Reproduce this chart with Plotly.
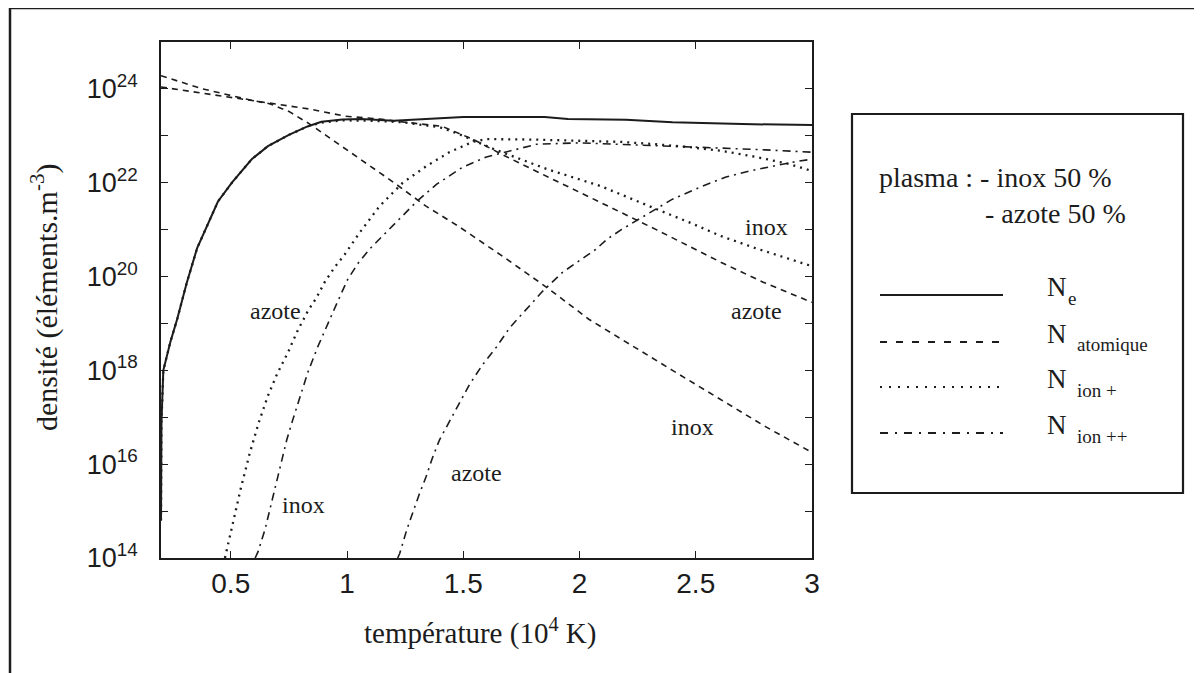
import plotly.graph_objects as go

# ---------------- data (temperature in 10^4 K, log10 of density in m^-3) ----------------
T_ne = [0.2, 0.202, 0.21, 0.24, 0.27, 0.31, 0.355, 0.39, 0.445, 0.505, 0.59, 0.66, 0.75, 0.83,
        0.89, 0.98, 1.06, 1.2, 1.35, 1.5, 1.85, 1.95, 2.2, 2.4, 2.7, 3.0]
log_ne = [14.8, 16.9, 18.0, 18.6, 19.1, 19.85, 20.6, 21.0, 21.6, 22.0, 22.5, 22.78, 23.02, 23.2,
          23.3, 23.35, 23.36, 23.32, 23.36, 23.4, 23.4, 23.36, 23.34, 23.29, 23.25, 23.23]

T_at_az = [0.2, 0.34, 0.48, 0.69, 0.84, 0.99, 1.14, 1.25, 1.41, 1.54, 1.68, 1.82, 1.97, 2.09,
           2.33, 2.47, 2.61, 2.79, 3.0]
log_at_az = [24.04, 23.94, 23.83, 23.68, 23.57, 23.42, 23.36, 23.29, 23.2, 22.93, 22.57, 22.23,
             21.86, 21.58, 21.0, 20.65, 20.3, 19.88, 19.45]

T_at_inox = [0.2, 0.38, 0.56, 0.67, 0.75, 0.84, 0.95, 1.12, 1.2, 1.34, 1.48, 1.67, 1.87, 2.04,
             2.2, 2.4, 2.6, 2.8, 3.0]
log_at_inox = [24.28, 24.0, 23.79, 23.68, 23.52, 23.25, 22.87, 22.29, 22.01, 21.5, 21.07, 20.43,
               19.73, 19.09, 18.6, 18.0, 17.4, 16.8, 16.25]

T_ip_inox = [0.2, 0.202, 0.21, 0.24, 0.27, 0.31, 0.355, 0.39, 0.445, 0.505, 0.59, 0.66, 0.75,
             0.83, 0.89, 0.98, 1.11, 1.24, 1.4, 1.48, 1.63, 1.86, 2.09, 2.33, 2.47, 2.61, 2.76, 3.0]
log_ip_inox = [14.8, 16.9, 18.0, 18.6, 19.1, 19.85, 20.6, 21.0, 21.6, 22.0, 22.5, 22.78, 23.02,
               23.2, 23.28, 23.33, 23.32, 23.29, 23.18, 23.04, 22.72, 22.29, 21.93, 21.44, 21.16,
               20.86, 20.6, 20.22]

T_ip_az = [0.475, 0.505, 0.544, 0.582, 0.62, 0.66, 0.70, 0.746, 0.784, 0.831, 0.87, 0.904, 0.947,
           0.99, 1.055, 1.14, 1.24, 1.34, 1.44, 1.54, 1.6, 1.8, 2.04, 2.18, 2.33, 2.47, 2.61,
           2.76, 2.9, 3.0]
log_ip_az = [14.0, 14.66, 15.5, 16.24, 16.88, 17.46, 17.93, 18.38, 18.81, 19.26, 19.56, 19.88,
             20.2, 20.47, 20.94, 21.5, 22.0, 22.35, 22.65, 22.87, 22.93, 22.92, 22.89, 22.87,
             22.82, 22.76, 22.68, 22.55, 22.4, 22.25]

T_ipp_inox = [0.605, 0.617, 0.647, 0.681, 0.711, 0.741, 0.767, 0.806, 0.831, 0.874, 0.917, 0.96,
              1.003, 1.05, 1.1, 1.17, 1.23, 1.3, 1.386, 1.497, 1.6, 1.73, 1.815, 2.0, 2.3, 2.6,
              2.8, 3.0]
log_ipp_inox = [14.0, 14.13, 14.6, 15.3, 15.88, 16.52, 16.95, 17.53, 17.95, 18.5, 19.0, 19.47,
                19.94, 20.3, 20.6, 20.95, 21.25, 21.6, 21.97, 22.33, 22.55, 22.72, 22.82, 22.85,
                22.8, 22.74, 22.7, 22.65]

T_ipp_az = [1.218, 1.227, 1.257, 1.282, 1.31, 1.34, 1.368, 1.398, 1.44, 1.484, 1.527, 1.583,
            1.643, 1.70, 1.772, 1.84, 1.927, 2.01, 2.07, 2.12, 2.18, 2.4, 2.53, 2.63, 2.73, 2.83,
            2.94, 3.0]
log_ipp_az = [14.0, 14.1, 14.6, 14.96, 15.35, 15.73, 16.14, 16.52, 16.91, 17.31, 17.7, 18.12,
              18.5, 18.91, 19.3, 19.68, 20.09, 20.37, 20.58, 20.8, 21.0, 21.65, 21.93, 22.12,
              22.25, 22.35, 22.46, 22.5]

x_ticks = [0.5, 1, 1.5, 2, 2.5, 3]
x_tick_labels = ["0.5", "1", "1.5", "2", "2.5", "3"]
y_major_exp = [14, 16, 18, 20, 22, 24]
y_minor_exp = [15, 17, 19, 21, 23]

# curve labels: (text, x, log10 y)
curve_labels = [("azote", 0.694, 19.26), ("inox", 0.814, 15.13), ("azote", 1.557, 15.82),
                ("inox", 2.803, 21.05), ("azote", 2.76, 19.26), ("inox", 2.485, 16.8)]

legend_names = ["e", "atomique", "ion +", "ion ++"]

# ---------------- styles ----------------
INK = "#1c1c1c"
S_SOLID = dict(color=INK, width=2)
S_DASH = dict(color=INK, width=1.6, dash="6px,5px")
S_DOT = dict(color=INK, width=2.3, dash="2px,5px")
S_DASHDOT = dict(color=INK, width=1.6, dash="8px,5px,2px,5px")


def dens(v):
    return [10.0 ** e for e in v]


fig = go.Figure()
series = [
    (T_at_az, log_at_az, S_DASH),
    (T_at_inox, log_at_inox, S_DASH),
    (T_ipp_inox, log_ipp_inox, S_DASHDOT),
    (T_ipp_az, log_ipp_az, S_DASHDOT),
    (T_ip_az, log_ip_az, S_DOT),
    (T_ne, log_ne, S_SOLID),
    (T_ip_inox, log_ip_inox, S_DOT),
]
for tx, ly, st in series:
    fig.add_trace(go.Scatter(x=tx, y=dens(ly), mode="lines", line=st, showlegend=False,
                             hoverinfo="skip"))

SERIF = "Liberation Serif, Times New Roman, serif"
SANS = "Liberation Sans, Arial, sans-serif"

annotations = []
for txt, ax_, ay_ in curve_labels:
    annotations.append(dict(x=ax_, y=ay_, xref="x", yref="y", text=txt, showarrow=False,
                            font=dict(family=SERIF, size=24, color=INK)))

# Page offset: the html body adds 8 px; plot area on screen spans px 161..812, 42..558
OFF = 8
W, H = 651.0, 516.0


def px(x):
    return (x - 161) / W


def py(y):
    return (558 - y) / H


# axis titles
annotations.append(dict(x=px(480), y=py(631), xref="paper", yref="paper",
                        text="température (10<sup>4</sup> K)", showarrow=False,
                        xanchor="center", yanchor="middle",
                        font=dict(family=SERIF, size=29, color=INK)))
annotations.append(dict(x=px(44), y=py(298), xref="paper", yref="paper", textangle=-90,
                        text="densité (éléments.m<sup>-3</sup>)", showarrow=False,
                        xanchor="center", yanchor="middle",
                        font=dict(family=SERIF, size=30, color=INK)))

annotations.append(dict(x=px(877), y=py(177), xref="paper", yref="paper",
                        text="plasma : - inox 50 %", showarrow=False, xanchor="left",
                        yanchor="middle", font=dict(family=SERIF, size=28, color=INK)))
annotations.append(dict(x=px(983), y=py(213), xref="paper", yref="paper",
                        text="- azote 50 %", showarrow=False, xanchor="left",
                        yanchor="middle", font=dict(family=SERIF, size=28, color=INK)))

leg_y = [295, 342, 387, 433]
leg_styles = [S_SOLID, dict(color=INK, width=2, dash="7px,9px"),
              dict(color=INK, width=2, dash="2px,7px"),
              dict(color=INK, width=2, dash="8px,7px,2px,7px")]
shapes = []
for name, yy, st in zip(legend_names, leg_y, leg_styles):
    shapes.append(dict(type="line", xref="paper", yref="paper", x0=px(880), x1=px(1003),
                       y0=py(yy), y1=py(yy), line=st))
    annotations.append(dict(x=px(1045), y=py(yy - 8), xref="paper", yref="paper", text="N",
                            showarrow=False, xanchor="left", yanchor="middle",
                            font=dict(family=SERIF, size=27, color=INK)))
    sx = 1066 if name == "e" else 1075
    annotations.append(dict(x=px(sx), y=py(yy + 3), xref="paper", yref="paper", text=name,
                            showarrow=False, xanchor="left", yanchor="middle",
                            font=dict(family=SERIF, size=19, color=INK)))

# legend frame
shapes.append(dict(type="rect", xref="paper", yref="paper", x0=px(852), x1=px(1183),
                   y0=py(493), y1=py(114), line=dict(color=INK, width=2.2)))
# outer page frame (top and left edges visible)
shapes.append(dict(type="line", xref="paper", yref="paper", x0=px(10), x1=px(1205),
                   y0=py(8), y1=py(8), line=dict(color=INK, width=2.5)))
shapes.append(dict(type="line", xref="paper", yref="paper", x0=px(10), x1=px(10),
                   y0=py(8), y1=py(680), line=dict(color=INK, width=2.5)))

fig.update_layout(
    width=1202 - OFF, height=673 - OFF,
    margin=dict(l=161 - OFF, r=1202 - 812, t=42 - OFF, b=673 - 558),
    paper_bgcolor="white", plot_bgcolor="white",
    showlegend=False,
    annotations=annotations,
    shapes=shapes,
    xaxis=dict(range=[0.2, 3], tickmode="array", tickvals=x_ticks, ticktext=x_tick_labels,
               ticks="inside", ticklen=7, tickwidth=1.2, tickcolor=INK,
               showline=True, linecolor=INK, linewidth=1.6, mirror="ticks",
               showgrid=False, zeroline=False,
               tickfont=dict(family=SANS, size=28, color=INK), ticklabelstandoff=0),
    yaxis=dict(type="log", range=[14, 25], tickmode="array",
               tickvals=[10.0 ** e for e in y_major_exp],
               ticktext=["10<sup>%d</sup>" % e for e in y_major_exp],
               ticks="inside", ticklen=7, tickwidth=1.2, tickcolor=INK,
               minor=dict(tickvals=[10.0 ** e for e in y_minor_exp], ticks="inside", ticklen=7,
                          tickwidth=1.2, tickcolor=INK, showgrid=False),
               showline=True, linecolor=INK, linewidth=1.6, mirror="ticks",
               showgrid=False, zeroline=False,
               tickfont=dict(family=SANS, size=27, color=INK), ticklabelstandoff=16),
)

fig.write_html("out.html")
